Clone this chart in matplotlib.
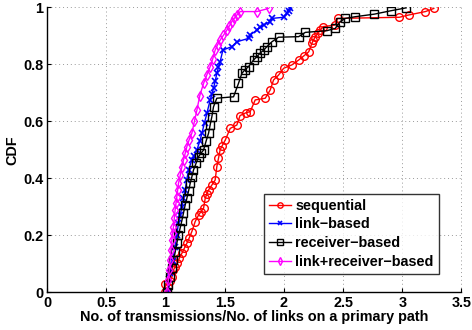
import matplotlib
matplotlib.use("Agg")
import matplotlib.pyplot as plt

plt.rcParams['font.family'] = ['Liberation Sans', 'DejaVu Sans']
plt.rcParams['font.weight'] = 'bold'

# sequential (red)
seq_x = [1.0, 1.0, 1.025, 1.04, 1.054, 1.068, 1.082, 1.096, 1.118, 1.139, 1.16, 1.181, 1.2,
         1.223, 1.251, 1.28, 1.3, 1.322, 1.336, 1.35, 1.364, 1.39, 1.42, 1.434, 1.448, 1.462,
         1.48, 1.505, 1.547, 1.603, 1.63, 1.68, 1.716, 1.758, 1.843, 1.885, 1.913, 1.955,
         1.998, 2.068, 2.125, 2.167, 2.21, 2.237, 2.25, 2.265, 2.29, 2.308, 2.33, 2.434,
         2.454, 2.975, 3.054, 3.195, 3.266]
seq_y = [0.0, 0.03, 0.02, 0.04, 0.055, 0.078, 0.09, 0.102, 0.12, 0.137, 0.155, 0.172, 0.19,
         0.213, 0.248, 0.271, 0.283, 0.295, 0.33, 0.345, 0.359, 0.375, 0.394, 0.441, 0.47,
         0.5, 0.515, 0.534, 0.575, 0.587, 0.62, 0.63, 0.634, 0.675, 0.681, 0.71, 0.745, 0.762,
         0.786, 0.798, 0.815, 0.829, 0.844, 0.874, 0.885, 0.897, 0.91, 0.92, 0.932, 0.938,
         0.961, 0.965, 0.973, 0.985, 0.996]

# link-based (blue)
link_x = [1.025, 1.04, 1.06, 1.082, 1.096, 1.11, 1.125, 1.139, 1.152, 1.167, 1.18, 1.195,
          1.223, 1.245, 1.266, 1.29, 1.308, 1.33, 1.35, 1.378, 1.392, 1.406, 1.42, 1.434,
          1.448, 1.462, 1.485, 1.561, 1.603, 1.702, 1.716, 1.772, 1.8, 1.829, 1.885, 1.899,
          1.998, 2.026, 2.04, 2.054]
link_y = [0.0, 0.067, 0.11, 0.16, 0.2, 0.242, 0.27, 0.3, 0.33, 0.359, 0.395, 0.429, 0.464,
          0.48, 0.5, 0.53, 0.558, 0.595, 0.628, 0.675, 0.695, 0.716, 0.74, 0.768, 0.79, 0.809,
          0.85, 0.862, 0.879, 0.891, 0.903, 0.92, 0.93, 0.938, 0.95, 0.961, 0.965, 0.979,
          0.988, 0.996]

# receiver-based (black)
recv_x = [1.012, 1.025, 1.04, 1.054, 1.068, 1.082, 1.096, 1.11, 1.124, 1.138, 1.152, 1.166,
          1.181, 1.195, 1.209, 1.223, 1.237, 1.258, 1.28, 1.3, 1.322, 1.343, 1.364, 1.378,
          1.392, 1.406, 1.434, 1.575, 1.617, 1.645, 1.67, 1.702, 1.744, 1.77, 1.8, 1.83, 1.857,
          1.899, 1.955, 2.125, 2.181, 2.364, 2.434, 2.477, 2.519, 2.603, 2.764, 2.905, 3.032]
recv_y = [0.0, 0.025, 0.055, 0.085, 0.113, 0.14, 0.172, 0.2, 0.225, 0.25, 0.277, 0.305,
          0.33, 0.355, 0.382, 0.405, 0.429, 0.452, 0.476, 0.488, 0.499, 0.53, 0.558, 0.588,
          0.616, 0.651, 0.681, 0.686, 0.733, 0.768, 0.78, 0.792, 0.815, 0.826, 0.839, 0.85,
          0.862, 0.879, 0.895, 0.897, 0.912, 0.918, 0.926, 0.95, 0.961, 0.967, 0.976, 0.988,
          0.998]

# link+receiver-based (magenta)
lr_x = [1.012, 1.025, 1.032, 1.04, 1.047, 1.054, 1.061, 1.068, 1.075, 1.082, 1.089, 1.096,
        1.103, 1.11, 1.125, 1.139, 1.153, 1.167, 1.181, 1.2, 1.223, 1.245, 1.266, 1.29,
        1.322, 1.35, 1.378, 1.4, 1.42, 1.44, 1.462, 1.49, 1.519, 1.54, 1.561, 1.583, 1.603,
        1.631, 1.772, 1.871]
lr_y = [0.0, 0.043, 0.078, 0.113, 0.148, 0.183, 0.207, 0.23, 0.26, 0.289, 0.312, 0.335,
        0.358, 0.382, 0.41, 0.441, 0.465, 0.488, 0.511, 0.535, 0.558, 0.6, 0.64, 0.69,
        0.733, 0.763, 0.792, 0.82, 0.85, 0.868, 0.885, 0.902, 0.92, 0.935, 0.95, 0.962,
        0.973, 0.985, 0.985, 0.996]

labels = ['sequential', 'link\u2212based', 'receiver\u2212based', 'link+receiver\u2212based']
xticks = [0, 0.5, 1, 1.5, 2, 2.5, 3, 3.5]
xticklabels = ['0', '0.5', '1', '1.5', '2', '2.5', '3', '3.5']
yticks = [0, 0.2, 0.4, 0.6, 0.8, 1]
yticklabels = ['0', '0.2', '0.4', '0.6', '0.8', '1']

FS = 10.4
fig = plt.figure(figsize=(4.72, 3.30), dpi=100)
ax = fig.add_axes([47 / 472, 1 - 292.3 / 330, (461.5 - 47) / 472, (292.3 - 7.3) / 330])

kw = dict(lw=1.0, ms=5.5, mfc='none', mew=1.0)
ax.plot(seq_x, seq_y, '-o', color='#ff0000', label=labels[0], **kw)
ax.plot(link_x, link_y, '-x', color='#0000ff', label=labels[1], lw=1.0, ms=5, mew=1.2)
ax.plot(recv_x, recv_y, '-s', color='black', label=labels[2], **kw)
ax.plot(lr_x, lr_y, '-d', color='#ff00ff', label=labels[3], **kw)

ax.set_xlim(0, 3.5)
ax.set_ylim(0, 1)
ax.set_xticks(xticks)
ax.set_xticklabels(xticklabels)
ax.set_yticks(yticks)
ax.set_yticklabels(yticklabels)
ax.tick_params(direction='in', length=3, labelsize=FS, width=0.8)
ax.tick_params(axis='x', pad=3.0)
ax.tick_params(axis='y', pad=2.5)
for lab in ax.get_xticklabels() + ax.get_yticklabels():
    lab.set_fontweight('bold')
ax.grid(True, linestyle=(0, (1, 3)), color='#999999', lw=0.7)
ax.spines['top'].set_visible(False)
ax.spines['right'].set_visible(False)
ax.spines['left'].set_linewidth(1.0)
ax.spines['bottom'].set_linewidth(1.0)

ax.set_xlabel('No. of transmissions/No. of links on a primary path', fontsize=FS,
              fontweight='bold', labelpad=0)
ax.set_ylabel('CDF', fontsize=FS, fontweight='bold', labelpad=3)

leg = ax.legend(loc='lower right', bbox_to_anchor=(0.945, 0.065),
                prop={'weight': 'bold', 'size': FS}, frameon=True, fancybox=False,
                edgecolor='black', handlelength=1.5, handletextpad=0.3,
                borderpad=0.35, labelspacing=0.32, borderaxespad=0, markerscale=0.7)
leg.get_frame().set_linewidth(1.0)

fig.savefig('out.png', dpi=100)
